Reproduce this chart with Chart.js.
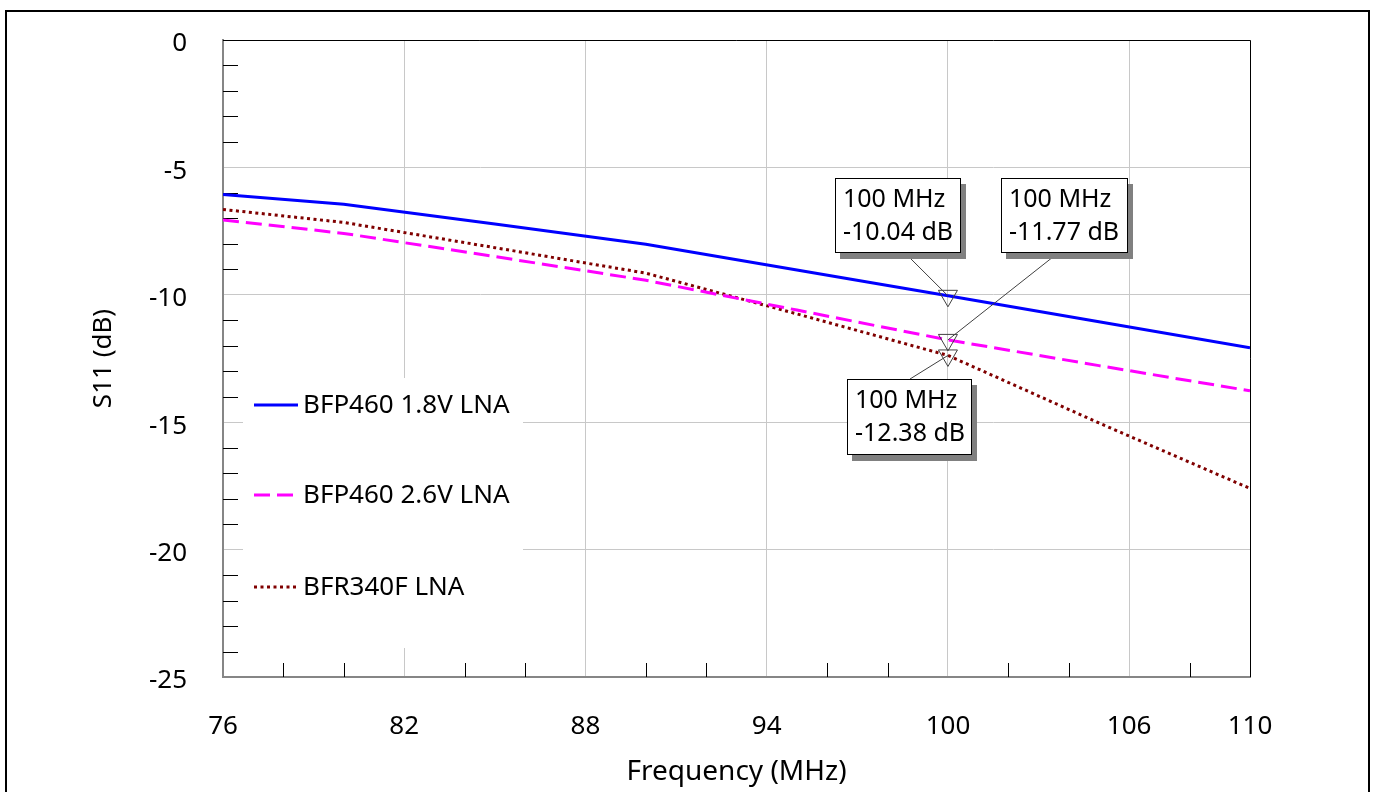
<!DOCTYPE html>
<html>
<head>
<meta charset="utf-8">
<title>S11 vs Frequency</title>
<script src="https://cdn.jsdelivr.net/npm/chart.js@4.4.1/dist/chart.umd.min.js"></script>
<style>
  html, body { margin: 0; padding: 0; background: #ffffff; overflow: hidden; }
  #frame { position: absolute; left: 5px; top: 10px; width: 1361px; height: 820px; border: 2px solid #000; }
  #plot { position: absolute; left: 0; top: 0; z-index: 1; }
</style>
</head>
<body>
<div id="frame"></div>
<canvas id="plot" width="1375" height="792"></canvas>
<script>
// Input return loss of the LNA variants across the FM band
const freqMHz        = [76, 80, 85, 90, 95, 100, 105, 110];
const s11Bfp460_18V  = [-6.06, -6.45, -7.22, -8.02, -9.03, -10.04, -11.06, -12.08];
const s11Bfp460_26V  = [-7.06, -7.59, -8.50, -9.43, -10.60, -11.77, -12.78, -13.77];
const s11Bfr340f     = [-6.65, -7.16, -8.15, -9.15, -10.75, -12.38, -15.03, -17.60];
const seriesNames    = ['BFP460 1.8V LNA', 'BFP460 2.6V LNA', 'BFR340F LNA'];
const xTickValues    = [76, 82, 88, 94, 100, 106, 110];
const yTickValues    = [0, -5, -10, -15, -20, -25];
const markerFreq     = 100;

const FONT = '"Noto Sans", "Open Sans", sans-serif';
Chart.defaults.font.family = FONT;
Chart.defaults.color = '#000';

const toPoints = ys => freqMHz.map((f, i) => ({ x: f, y: ys[i] }));
const markerRadius = ctx => (ctx.raw && ctx.raw.x === markerFreq ? 11 : 0);

function series(label, values, color, dash) {
  return {
    label, data: toPoints(values), showLine: true,
    borderColor: color, borderWidth: 3, borderDash: dash, borderCapStyle: 'butt',
    tension: 0, fill: false,
    pointStyle: 'triangle', rotation: 180,
    pointRadius: markerRadius, pointHoverRadius: markerRadius,
    pointBackgroundColor: 'rgba(0,0,0,0)', pointBorderColor: '#404040', pointBorderWidth: 1
  };
}

// Short inner tick marks between the labelled gridlines
const minorTicks = {
  id: 'minorTicks',
  beforeDatasetsDraw(chart) {
    const { ctx, chartArea: a, scales: { x, y } } = chart;
    ctx.save();
    ctx.strokeStyle = '#000';
    ctx.lineWidth = 1;
    ctx.beginPath();
    for (let v = x.min + 2; v < x.max; v += 2) {
      if (xTickValues.includes(v)) continue;
      const px = Math.round(x.getPixelForValue(v)) + 0.5;
      ctx.moveTo(px, a.bottom); ctx.lineTo(px, a.bottom - 14);
    }
    for (let v = y.min + 1; v < y.max; v += 1) {
      if (yTickValues.includes(v)) continue;
      const py = Math.round(y.getPixelForValue(v)) + 0.5;
      ctx.moveTo(a.left, py); ctx.lineTo(a.left + 15, py);
    }
    ctx.stroke();
    ctx.restore();
  }
};

// Boxed legend sitting inside the plot area
const innerLegend = {
  id: 'innerLegend',
  beforeDatasetsDraw(chart) {
    const { ctx, chartArea: a } = chart;
    const left = a.left + 20, top = 378, w = 280, h = 270;
    const rowsY = [405, 495, 587];
    ctx.save();
    ctx.fillStyle = '#fff';
    ctx.fillRect(left, top, w, h);
    chart.data.datasets.forEach((ds, i) => {
      const yy = rowsY[i];
      ctx.strokeStyle = ds.borderColor;
      ctx.lineWidth = 3;
      ctx.setLineDash(ds.borderDash || []);
      ctx.beginPath();
      ctx.moveTo(left + 11, yy); ctx.lineTo(left + 55, yy);
      ctx.stroke();
      ctx.setLineDash([]);
      ctx.fillStyle = '#000';
      ctx.font = '26px ' + FONT;
      ctx.textBaseline = 'middle';
      ctx.textAlign = 'left';
      ctx.fillText(ds.label, left + 60, yy + 1);
    });
    ctx.restore();
  }
};

// Plot frame on the top and right, plus marker call-outs
const calloutLayout = [
  { dx: -113, dy: -118, w: 126, h: 75, anchorX: 70, fromTop: false },
  { dx: 53,   dy: -162, w: 127, h: 75, anchorX: 57, fromTop: false },
  { dx: -101, dy: 24,   w: 125, h: 76, anchorX: 63, fromTop: true }
];
const callouts = {
  id: 'callouts',
  afterDatasetsDraw(chart) {
    const { ctx, chartArea: a, scales: { x, y } } = chart;
    ctx.save();
    ctx.strokeStyle = '#000';
    ctx.lineWidth = 1;
    ctx.beginPath();
    ctx.moveTo(a.left, a.top + 0.5); ctx.lineTo(a.right + 0.5, a.top + 0.5);
    ctx.lineTo(a.right + 0.5, a.bottom);
    ctx.stroke();

    chart.data.datasets.forEach((ds, i) => {
      const pt = ds.data.find(p => p.x === markerFreq);
      if (!pt) return;
      const px = x.getPixelForValue(pt.x), py = y.getPixelForValue(pt.y);
      const L = calloutLayout[i];
      const bx = Math.round(px + L.dx), by = Math.round(py + L.dy);
      const ax = bx + L.anchorX, ay = L.fromTop ? by : by + L.h;
      ctx.strokeStyle = '#404040';
      ctx.lineWidth = 1;
      ctx.beginPath();
      ctx.moveTo(ax, ay); ctx.lineTo(px, py);
      ctx.stroke();
      ctx.fillStyle = '#808080';
      ctx.fillRect(bx + 5, by + 6, L.w, L.h);
      ctx.fillStyle = '#fff';
      ctx.fillRect(bx, by, L.w, L.h);
      ctx.strokeStyle = '#000';
      ctx.strokeRect(bx + 0.5, by + 0.5, L.w - 1, L.h - 1);
      ctx.fillStyle = '#000';
      ctx.font = '25px ' + FONT;
      ctx.textBaseline = 'middle';
      ctx.textAlign = 'left';
      ctx.fillText(pt.x + ' MHz', bx + 8, by + 22);
      ctx.fillText(pt.y.toFixed(2) + ' dB', bx + 8, by + 55);
    });
    ctx.restore();
  }
};

new Chart(document.getElementById('plot'), {
  type: 'scatter',
  data: {
    datasets: [
      series(seriesNames[0], s11Bfp460_18V, '#0000ff', []),
      series(seriesNames[1], s11Bfp460_26V, '#ff00ff', [16, 7]),
      series(seriesNames[2], s11Bfr340f, '#800000', [3, 3.5])
    ]
  },
  options: {
    responsive: false,
    animation: false,
    events: [],
    layout: { padding: { left: 0, top: 40, right: 125, bottom: 0 } },
    plugins: { legend: { display: false }, tooltip: { enabled: false } },
    scales: {
      x: {
        type: 'linear', position: 'bottom', min: 76, max: 110,
        afterBuildTicks: s => { s.ticks = xTickValues.map(v => ({ value: v })); },
        afterFit: s => { s.height = 115; },
        grid: { color: '#c8c8c8', lineWidth: 1, drawTicks: false },
        border: { color: '#868686', width: 2 },
        ticks: { color: '#000', font: { size: 26 }, padding: 34, maxRotation: 0, autoSkip: false },
        title: { display: true, text: 'Frequency (MHz)', color: '#000', font: { size: 28 }, padding: { top: 0, bottom: 3 } }
      },
      y: {
        type: 'linear', position: 'left', min: -25, max: 0,
        afterBuildTicks: s => { s.ticks = yTickValues.map(v => ({ value: v })); },
        afterFit: s => { s.width = 223; s.paddingTop = 0; s.paddingBottom = 0; },
        grid: { color: '#c8c8c8', lineWidth: 1, drawTicks: false },
        border: { color: '#868686', width: 2 },
        ticks: { color: '#000', font: { size: 26 }, padding: 36, labelOffset: 4, autoSkip: false },
        title: { display: true, text: 'S11 (dB)', color: '#000', font: { size: 26 }, padding: { top: 88, bottom: 0 } }
      }
    }
  },
  plugins: [minorTicks, innerLegend, callouts]
});
</script>
</body>
</html>
